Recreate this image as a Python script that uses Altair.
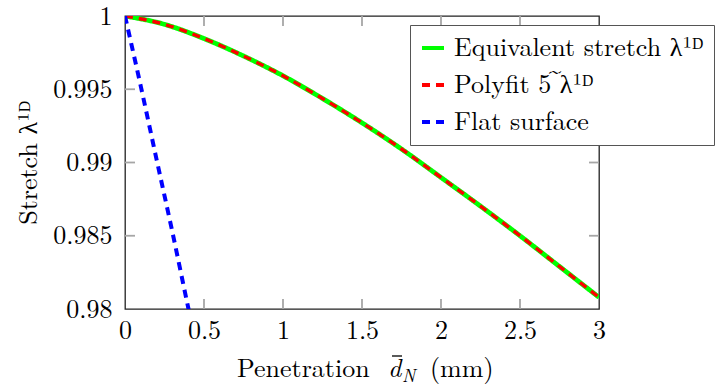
import altair as alt
import pandas as pd

# ---- data ----
d_eq = [0.0, 0.25, 0.5, 0.75, 1.0, 1.25, 1.5, 1.75, 2.0, 2.25, 2.5, 2.75, 3.0]
s_eq = [1.0, 0.99943, 0.99846, 0.99727, 0.99592, 0.99437, 0.99271, 0.99092,
        0.98898, 0.98702, 0.98500, 0.98290, 0.98080]

d_fit = [0.0, 0.25, 0.5, 0.75, 1.0, 1.25, 1.5, 1.75, 2.0, 2.25, 2.5, 2.75, 3.0]
s_fit = [1.0, 0.99943, 0.99846, 0.99727, 0.99592, 0.99437, 0.99271, 0.99092,
         0.98898, 0.98702, 0.98500, 0.98290, 0.98080]

d_flat = [0.0, 0.1, 0.2, 0.3, 0.4, 0.42]
s_flat = [1.0, 0.9952, 0.9902, 0.98525, 0.9801, 0.9791]

series_names = ["Equivalent stretch λ¹ᴰ\u00a0", "Polyfit 5 λ¹ᴰ", "Flat surface"]
series_colors = ["#00ff00", "#ff0000", "#0000ff"]
series_dash = [[1, 0], [8, 6], [8, 6]]
series_width = [4.8, 3.4, 4.0]

x_ticks = [0, 0.5, 1, 1.5, 2, 2.5, 3]
y_ticks = [0.98, 0.985, 0.99, 0.995, 1]
x_inner_ticks = [0.5, 1, 1.5, 2, 2.5]
y_inner_ticks = [0.985, 0.99, 0.995]

FONT = "Latin Modern Roman"
FS = 26
W, H = 474, 293
LEG_X, LEG_Y = 285, 9

frames = []
for name, xs, ys in zip(series_names, [d_eq, d_fit, d_flat], [s_eq, s_fit, s_flat]):
    frames.append(pd.DataFrame({"d": xs, "s": ys, "series": name}))
df = pd.concat(frames, ignore_index=True)

xscale = alt.Scale(domain=[0, 3], nice=False, zero=False)
yscale = alt.Scale(domain=[0.98, 1.0], nice=False, zero=False)

legend = alt.Legend(
    orient="none", legendX=LEG_X, legendY=LEG_Y, title=None,
    labelFont=FONT, labelFontSize=FS, labelColor="black", labelLimit=500,
    symbolType="stroke", symbolSize=484, symbolStrokeWidth=4,
    padding=10, rowPadding=11, labelOffset=8,
    strokeColor="#555555", cornerRadius=0,
)

color_enc = alt.Color("series:N", scale=alt.Scale(domain=series_names, range=series_colors), legend=legend)
dash_enc = alt.StrokeDash("series:N", scale=alt.Scale(domain=series_names, range=series_dash), legend=legend)

xaxis = alt.Axis(values=x_ticks, labelExpr="format(datum.value, '~g')", ticks=False, domain=False,
                 grid=False, labelFont=FONT, labelFontSize=FS, labelColor="black",
                 labelPadding=8, labelFlush=False, labelOverlap=False, title=None)
yaxis = alt.Axis(values=y_ticks, labelExpr="format(datum.value, '~g')", ticks=False, domain=False,
                 grid=False, labelFont=FONT, labelFontSize=FS, labelColor="black",
                 labelPadding=13, labelFlush=False, labelOverlap=False, labelLimit=300,
                 title="Stretch λ¹ᴰ", titleFont=FONT, titleFontSize=FS, titleFontWeight="normal",
                 titleColor="black", titleX=-97, titleY=H / 2, titleAngle=270,
                 titleAlign="center", titleBaseline="middle")

layers = []
for i, name in enumerate(series_names):
    layer = alt.Chart(df).transform_filter(alt.datum.series == name).mark_line(
        clip=True, strokeWidth=series_width[i], interpolate="monotone", strokeCap="butt"
    ).encode(
        x=alt.X("d:Q", scale=xscale, axis=xaxis),
        y=alt.Y("s:Q", scale=yscale, axis=yaxis),
        color=color_enc,
        strokeDash=dash_enc,
    )
    layers.append(layer)

tick_color = "#a6a6a6"
xt = pd.DataFrame({"t": x_inner_ticks})
yt = pd.DataFrame({"t": y_inner_ticks})
xt_bottom = alt.Chart(xt).mark_rule(color=tick_color, strokeWidth=1.8).encode(
    x=alt.X("t:Q", scale=xscale, axis=xaxis), y=alt.value(H), y2=alt.value(H - 10))
xt_top = alt.Chart(xt).mark_rule(color=tick_color, strokeWidth=1.8).encode(
    x=alt.X("t:Q", scale=xscale, axis=xaxis), y=alt.value(0), y2=alt.value(10))
yt_left = alt.Chart(yt).mark_rule(color=tick_color, strokeWidth=1.8).encode(
    y=alt.Y("t:Q", scale=yscale, axis=yaxis), x=alt.value(0), x2=alt.value(10))
yt_right = alt.Chart(yt).mark_rule(color=tick_color, strokeWidth=1.8).encode(
    y=alt.Y("t:Q", scale=yscale, axis=yaxis), x=alt.value(W), x2=alt.value(W - 10))

dummy = pd.DataFrame({"a": [0]})

# white background of the legend box (drawn under the legend, above the plot marks)
legend_bg = alt.Chart(dummy).mark_rect(color="white", opacity=1).encode(
    x=alt.value(LEG_X), x2=alt.value(W + 200), y=alt.value(LEG_Y), y2=alt.value(130))

def label(txt, x, y, size=FS, style="normal", align="left"):
    return alt.Chart(dummy).mark_text(
        text=txt, font=FONT, fontSize=size, fontStyle=style, align=align,
        baseline="alphabetic", color="black"
    ).encode(x=alt.value(x), y=alt.value(y))

title_parts = [
    label("Penetration", 112, 361),
    label("d", 263, 361, style="italic"),
    label("N", 277, 366, size=18, style="italic"),
    label("(mm)", 305, 361),
    # tilde accent over the lambda of the polyfit legend entry
    label("~", 430, 62, size=22, align="center"),
]
macron = alt.Chart(dummy).mark_rule(color="black", strokeWidth=1.3).encode(
    x=alt.value(267), x2=alt.value(277), y=alt.value(340))

chart = alt.layer(
    *layers, xt_bottom, xt_top, yt_left, yt_right, legend_bg, *title_parts, macron
).resolve_scale(color="shared", strokeDash="shared").properties(
    width=W, height=H,
    autosize=alt.AutoSizeParams(type="none"),
    padding={"left": 125, "top": 16, "right": 718 - 125 - W, "bottom": 387 - 16 - H},
    background="white",
).configure_view(stroke="#222222", strokeWidth=1.3)

chart.save("out.html", embed_options={"renderer": "svg", "actions": False})
